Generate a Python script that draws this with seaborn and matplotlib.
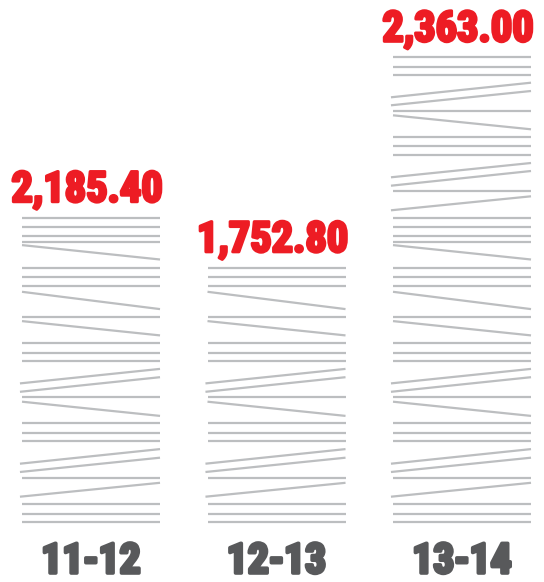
import matplotlib
matplotlib.use("Agg")
import matplotlib.pyplot as plt
from matplotlib import font_manager
import matplotlib.patheffects as pe
import seaborn as sns
import pandas as pd

# ---- data ----
periods = ["11-12", "12-13", "13-14"]
values = [2185.40, 1752.80, 2363.00]
value_labels = ["2,185.40", "1,752.80", "2,363.00"]
# bar heights as drawn in the graphic (not to scale), in drawing units
bar_heights = [304.3, 254.2, 464.7]

# ---- texture of the bars (decoration): (left offset, right offset) from bar bottom
TEXTURE = [
    (0, 0), (8.3, 8.3), (17.8, 17.8), (25.3, 39.2), (44, 44), (50, 64.3), (58.3, 72.9),
    (80.8, 80.8), (89.2, 89.2), (98.8, 98.8), (120.3, 106.1), (124.6, 124.6),
    (130.2, 144.8), (138.6, 153.1), (160.7, 160.7), (169, 169), (178.6, 178.6),
    (200.9, 186.6), (204.7, 204.7), (230.2, 212.9), (236, 236), (244.8, 244.8),
    (254.2, 254.2), (276.9, 262.5), (280.2, 280.2), (286.3, 286.3), (294.9, 294.9),
    (304.3, 304.3), (311.7, 325.7), (330.7, 330.7), (336.3, 351), (344.7, 359),
    (367, 367), (375.7, 375.7), (385, 385), (406.7, 392.7), (411, 411),
    (416.7, 431), (424.7, 439.3), (446.7, 446.7), (455.3, 455.3), (464.7, 464.7),
]

RED = "#ed1c24"
DARK = "#58595b"
LINE = "#bcbec0"

sns.set_theme(style="white")
avail = {f.name for f in font_manager.fontManager.ttflist}
family = "DejaVu Sans"
for cand in ["Liberation Sans Narrow", "Roboto Condensed", "DejaVu Sans Condensed", "Open Sans Condensed"]:
    if cand in avail:
        family = cand
        break
plt.rcParams["font.family"] = [family, "DejaVu Sans"]

df = pd.DataFrame({"period": periods, "height": bar_heights, "value": values})

fig = plt.figure(figsize=(5.44, 5.82), dpi=100)
ax = fig.add_axes([0, 0, 1, 1])
sns.barplot(data=df, x="period", y="height", order=periods, color="white",
            width=0.744, linewidth=0, ax=ax)
ax.set_xlim(-0.4906, 2.442)
ax.set_ylim(-60, 522)
ax.axis("off")

for patch, lab, per in zip(ax.patches, value_labels, periods):
    x0 = patch.get_x()
    x1 = x0 + patch.get_width()
    h = patch.get_height()
    for lo, ro in TEXTURE:
        if max(lo, ro) > h + 1:
            continue
        xs = x0 - (0.011 if lo < ro else 0)
        ax.plot([xs, x1], [lo, ro], color=LINE, lw=1.6, solid_capstyle="butt")
    xc = x0 + patch.get_width() / 2
    ax.text(xc - 0.02, h + 16, lab, color=RED, fontsize=30.5, fontweight="bold",
            ha="center", va="baseline",
            path_effects=[pe.withStroke(linewidth=2.2, foreground=RED)])
    ax.text(xc, -51, per, color=DARK, fontsize=30, fontweight="bold",
            ha="center", va="baseline",
            path_effects=[pe.withStroke(linewidth=2.6, foreground=DARK)])

fig.savefig("out.png", dpi=100)
